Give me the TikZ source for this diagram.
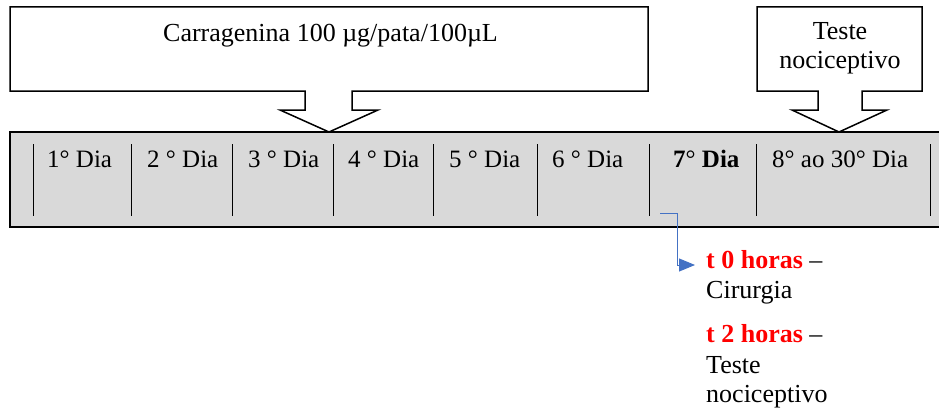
\documentclass[tikz,border=0pt]{standalone}
\usepackage{fontspec}
\setmainfont{Liberation Serif}
\usetikzlibrary{arrows.meta,calc}
\definecolor{barfill}{HTML}{D9D9D9}
\definecolor{linkblue}{HTML}{4472C4}
\definecolor{hred}{HTML}{FF0000}
\begin{document}
\begin{tikzpicture}[x=1pt,y=-1pt,
  callout/.style={draw=black,line width=1.5pt,fill=white,line join=miter},
  bar/.style={draw=black,line width=2pt,fill=barfill},
  divider/.style={draw=black,line width=0.9pt},
  lbl/.style={anchor=base west,inner sep=0pt,font=\fontsize{25}{28}\selectfont},
  note/.style={anchor=base west,inner sep=0pt,font=\fontsize{26}{30}\selectfont},
  txt/.style={inner sep=0pt,font=\fontsize{26}{28}\selectfont},
  conn/.style={draw=linkblue,line width=1pt,-{Triangle[length=16pt,width=13pt]}}]
\useasboundingbox (0,0) rectangle (939,412);
\clip (0,0) rectangle (939,412);
% timeline bar
\path[bar] (10,132) rectangle (950,227);
\foreach \x in {33,131,232,333,433,537,649,756,930}
  \draw[divider] (\x,144) -- (\x,216);
% callout 1
\path[callout] (10,7) -- (648,7) -- (648,91) -- (352,91) -- (352,110) -- (378,110)
  -- (329,132) -- (280,110) -- (305,110) -- (305,91) -- (10,91) -- cycle;
\node[txt,anchor=base west] (carr) at (163,42) {Carragenina 100 µg/pata/100µL};
% callout 2
\path[callout] (757,7) -- (922,7) -- (922,91) -- (862,91) -- (862,110) -- (887,110)
  -- (839,132) -- (792,110) -- (818,110) -- (818,91) -- (757,91) -- cycle;
\node[txt,anchor=base] (teste1) at (840,40) {Teste};
\node[txt,anchor=base] (teste2) at (840,68) {nociceptivo};
% day labels
\node[lbl] (d1) at (47,167) {1° Dia};
\node[lbl] (d2) at (147,167) {2 ° Dia};
\node[lbl] (d3) at (248,167) {3 ° Dia};
\node[lbl] (d4) at (348,167) {4 ° Dia};
\node[lbl] (d5) at (449,167) {5 ° Dia};
\node[lbl] (d6) at (552,167) {6 ° Dia};
\node[lbl] (d7) at (673,167) {\textbf{7}° \textbf{Dia}};
\node[lbl] (d8) at (772,167) {8° ao 30° Dia};
% lower notes
\node[note] (t0a) at (706,268) {\textcolor{hred}{\textbf{t 0 horas}} –};
\node[note] (t0b) at (706,298) {Cirurgia};
\node[note] (t2a) at (706,342) {\textcolor{hred}{\textbf{t 2 horas}} –};
\node[note] (t2b) at (706,373) {Teste};
\node[note] (t2c) at (706,402) {nociceptivo};
% connector
\coordinate (c7) at (660,213);
\coordinate (bend) at (677,213);
\draw[conn] (c7) -- (bend) |- ($(t0a.base west)+(-11,-3)$);
\end{tikzpicture}
\end{document}
